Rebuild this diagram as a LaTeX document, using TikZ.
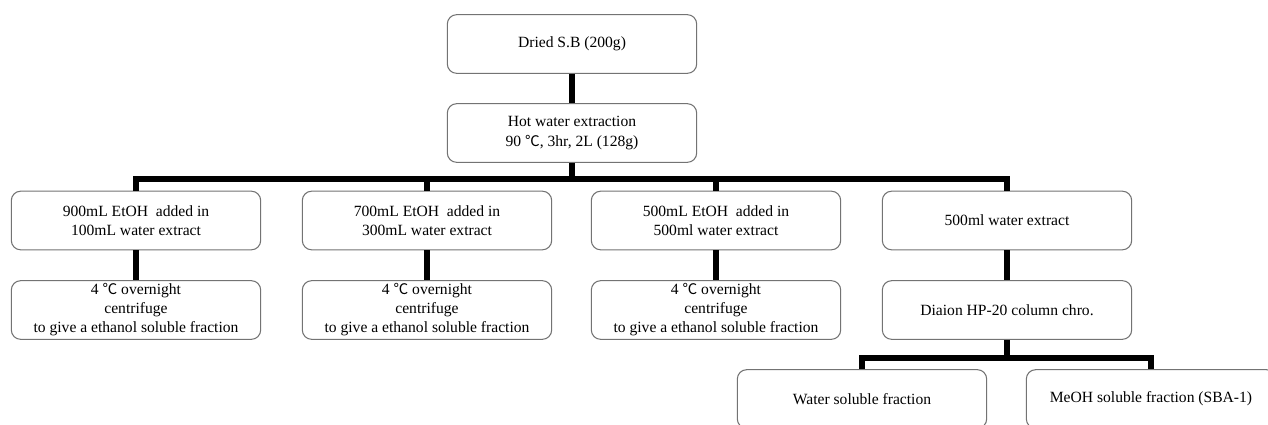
\documentclass[tikz,border=0pt]{standalone}
\usepackage{fontspec}
\setmainfont{Liberation Serif}
\newfontfamily\cjk{Noto Sans CJK KR}
\usepackage{tikz}
\usetikzlibrary{calc, positioning}
\newcommand{\degC}{\smash{\cjk\fontsize{11}{12}\selectfont ℃}}
\tikzset{
    stepbox/.style={rectangle, draw=black!55, line width=0.8pt, rounded corners=7pt, fill=white, align=center, minimum width=187pt, minimum height=44pt, inner sep=1pt, font=\fontsize{11.7}{14.3}\selectfont},
    link/.style={line width=3.8pt, black}
}

\begin{document}
\begin{tikzpicture}[x=0.75pt, y=-0.75pt]
    \useasboundingbox (0,0) rectangle (1268,425);
    \clip (0,0) rectangle (1268,425);

    % Boxes
    \node[stepbox] (dried) at (572,44) {Dried S.B (200g)};
    \node[stepbox] (hotwater) at (572,133) {Hot water extraction\\90 \degC, 3hr, 2L (128g)};

    \node[stepbox] (eth900) at (136,220.5) {900mL EtOH~ added in\\100mL water extract};
    \node[stepbox] (eth700) at (427,220.5) {700mL EtOH~ added in\\300mL water extract};
    \node[stepbox] (eth500) at (716,220.5) {500mL EtOH~ added in\\500ml water extract};
    \node[stepbox] (water500) at (1007,220.5) {500ml water extract};

    \node[stepbox] (cold900) at (136,310) {4 \degC\ overnight\\centrifuge\\to give a ethanol soluble fraction};
    \node[stepbox] (cold700) at (427,310) {4 \degC\ overnight\\centrifuge\\to give a ethanol soluble fraction};
    \node[stepbox] (cold500) at (716,310) {4 \degC\ overnight\\centrifuge\\to give a ethanol soluble fraction};
    \node[stepbox] (diaion) at (1007,310) {Diaion HP-20 column chro.};

    \node[stepbox] (watersol) at (862,399) {Water soluble fraction};
    \node[stepbox] (meohsol) at (1151,399) {MeOH soluble fraction (SBA-1)};

    % Connectors
    \coordinate (bus1) at (572,179);
    \coordinate (bus2) at (1007,358);
    \draw[link] (dried) -- (hotwater);
    \draw[link] (hotwater) -- (bus1);
    \draw[link] (eth900.north) |- (bus1) -| (water500.north);
    \draw[link] (eth700.north) -- (eth700.north |- bus1);
    \draw[link] (eth500.north) -- (eth500.north |- bus1);

    \draw[link] (eth900) -- (cold900);
    \draw[link] (eth700) -- (cold700);
    \draw[link] (eth500) -- (cold500);
    \draw[link] (water500) -- (diaion);

    \draw[link] (diaion) -- (bus2);
    \draw[link] (watersol.north) |- (bus2) -| (meohsol.north);
\end{tikzpicture}
\end{document}
